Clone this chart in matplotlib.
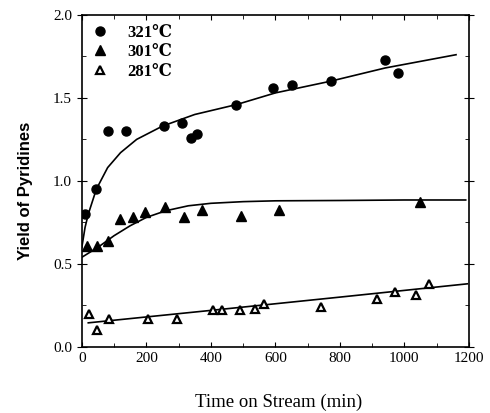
import matplotlib.pyplot as plt
from matplotlib.ticker import MultipleLocator

plt.rcParams['font.family'] = ['Liberation Serif', 'DejaVu Serif']

# measured points
t_321 = [9, 45, 80, 136, 255, 309, 338, 358, 478, 593, 651, 771, 941, 979]
y_321 = [0.80, 0.95, 1.30, 1.30, 1.33, 1.35, 1.26, 1.28, 1.46, 1.56, 1.58, 1.60, 1.73, 1.65]

t_301 = [16, 47, 82, 118, 159, 197, 257, 316, 374, 493, 611, 1048]
y_301 = [0.61, 0.61, 0.64, 0.77, 0.785, 0.81, 0.845, 0.78, 0.825, 0.79, 0.825, 0.87]

t_281 = [23, 47, 85, 204, 294, 407, 435, 490, 538, 564, 741, 914, 970, 1035, 1076]
y_281 = [0.20, 0.10, 0.17, 0.17, 0.17, 0.22, 0.22, 0.22, 0.23, 0.26, 0.24, 0.29, 0.33, 0.31, 0.38]

# fitted curves as drawn in the figure
ct_321 = [0, 10, 20, 45, 80, 120, 170, 250, 350, 480, 600, 770, 940, 1160]
cy_321 = [0.60, 0.72, 0.80, 0.95, 1.08, 1.17, 1.25, 1.33, 1.40, 1.46, 1.53, 1.60, 1.68, 1.76]

ct_301 = [0, 50, 100, 150, 200, 260, 330, 400, 500, 600, 800, 1000, 1190]
cy_301 = [0.54, 0.60, 0.67, 0.73, 0.78, 0.82, 0.85, 0.865, 0.875, 0.88, 0.882, 0.885, 0.885]

ct_281 = [20, 400, 800, 1195]
cy_281 = [0.145, 0.22, 0.30, 0.38]

fig = plt.figure(figsize=(4.9, 4.13), dpi=100)
ax = fig.add_axes([0.167, 0.16, 0.79, 0.804])

ax.plot(ct_321, cy_321, color='black', lw=1.2)
ax.plot(ct_301, cy_301, color='black', lw=1.2)
ax.plot(ct_281, cy_281, color='black', lw=1.2)

ax.plot(t_321, y_321, 'o', color='black', ms=6.5, label='321℃')
ax.plot(t_301, y_301, '^', color='black', ms=6.5, label='301℃')
ax.plot(t_281, y_281, '^', mfc='white', mec='black', mew=1.6, ms=6, label='281℃')

ax.set_xlim(0, 1200)
ax.set_ylim(0, 2.0)
ax.xaxis.set_major_locator(MultipleLocator(200))
ax.xaxis.set_minor_locator(MultipleLocator(100))
ax.yaxis.set_major_locator(MultipleLocator(0.5))
ax.yaxis.set_minor_locator(MultipleLocator(0.25))
ax.yaxis.set_major_formatter(plt.FormatStrFormatter('%.1f'))
ax.tick_params(which='both', direction='in', top=True, right=True, labelsize=11)
ax.tick_params(axis='y', which='major', direction='inout', length=7)
ax.tick_params(which='minor', length=3)
for s in ax.spines.values():
    s.set_linewidth(1.2)

ax.set_xlabel('Time on Stream (min)', fontsize=13.5)
ax.xaxis.set_label_coords(0.508, -0.142)
ax.set_ylabel('Yield of Pyridines', fontsize=12, fontweight='bold',
              family=['Liberation Sans', 'DejaVu Sans'])
ax.yaxis.set_label_coords(-0.125, 0.47)

ax.legend(loc='upper left', frameon=False, handlelength=1.0, handletextpad=1.1,
          labelspacing=0.2, borderpad=0.4, borderaxespad=0.2,
          prop={'weight': 'bold', 'size': 12})

fig.savefig('out.png', dpi=100)
